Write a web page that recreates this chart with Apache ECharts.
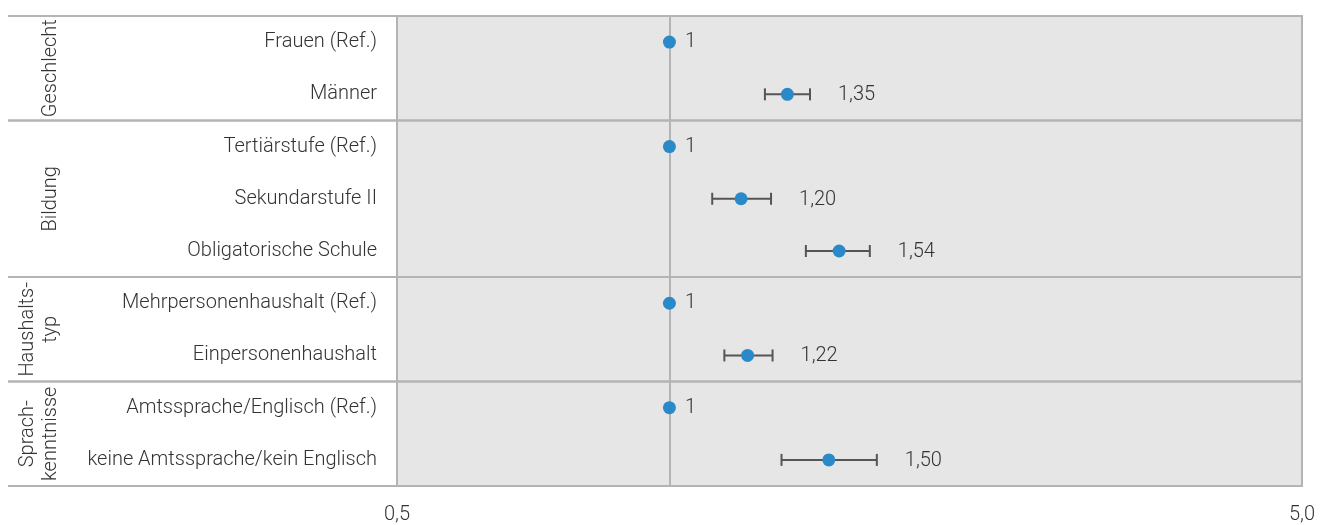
<!DOCTYPE html>
<html>
<head>
<meta charset="utf-8">
<script src="https://cdn.jsdelivr.net/npm/echarts@6/dist/echarts.min.js"></script>
<style>
  html, body { margin: 0; padding: 0; background: #fff; }
  #chart { width: 1329px; height: 525px; }
</style>
</head>
<body>
<div id="chart"></div>
<script>
// rows of the forest plot, top to bottom
const categories = [
  'Frauen (Ref.)', 'Männer',
  'Tertiärstufe (Ref.)', 'Sekundarstufe II', 'Obligatorische Schule',
  'Mehrpersonenhaushalt (Ref.)', 'Einpersonenhaushalt',
  'Amtssprache/Englisch (Ref.)', 'keine Amtssprache/kein Englisch'
];
const oddsRatio = [1, 1.35, 1, 1.20, 1.54, 1, 1.22, 1, 1.50];
const ciLow = [null, 1.275, null, 1.115, 1.415, null, 1.15, null, 1.33];
const ciHigh = [null, 1.43, null, 1.295, 1.665, null, 1.30, null, 1.695];
const valueLabels = ['1', '1,35', '1', '1,20', '1,54', '1', '1,22', '1', '1,50'];

const groups = ['Geschlecht', 'Bildung', 'Haushalts-\ntyp', 'Sprach-\nkenntnisse'];
const groupSizes = [2, 3, 2, 2];

const xTickLabels = { '0.5': '0,5', '5': '5,0' };

const FONT = 'Roboto';
const TEXT = '#333';
const RULE = '#b4b4b4';

var myChart = echarts.init(document.getElementById('chart'));

// group spans as [x, firstRow, lastRow]
let groupData = [];
let row = 0;
groupSizes.forEach((n, i) => {
  groupData.push({ value: [1, row, row + n - 1], name: groups[i] });
  row += n;
});

let ciData = [];
ciLow.forEach((lo, i) => {
  if (lo != null) ciData.push([lo, ciHigh[i], i]);
});

const option = {
  animation: false,
  backgroundColor: '#fff',
  grid: {
    left: 397, right: 27, top: 16, bottom: 39,
    show: true,
    backgroundColor: '#e6e6e6',
    borderColor: RULE,
    borderWidth: 2
  },
  xAxis: {
    type: 'log',
    logBase: 10,
    min: 0.5,
    max: 5,
    axisLine: { show: false },
    axisTick: { show: false },
    minorTick: { show: false },
    splitLine: { show: false },
    axisLabel: {
      margin: 19,
      color: TEXT,
      fontFamily: FONT,
      fontWeight: 300,
      fontSize: 20,
      showMinLabel: true,
      showMaxLabel: true,
      formatter: function (v) {
        const k = String(Math.round(v * 100) / 100);
        return xTickLabels[k] || '';
      }
    }
  },
  yAxis: {
    type: 'category',
    inverse: true,
    data: categories,
    axisLine: { show: false },
    axisTick: { show: false },
    splitLine: { show: false },
    axisLabel: {
      margin: 20,
      color: TEXT,
      fontFamily: FONT,
      fontWeight: 300,
      fontSize: 20
    }
  },
  series: [
    {
      // group labels and separators in the left margin
      type: 'custom',
      clip: false,
      silent: true,
      encode: { x: 0, y: [1, 2] },
      data: groupData,
      renderItem: function (params, api) {
        const band = api.size([0, 1])[1];
        const top = api.coord([1, api.value(1)])[1] - band / 2;
        const bottom = api.coord([1, api.value(2)])[1] + band / 2;
        const right = params.coordSys.x + params.coordSys.width;
        const name = groups[params.dataIndex];
        return {
          type: 'group',
          children: [
            {
              type: 'line',
              shape: { x1: 8, y1: top, x2: right, y2: top },
              style: { stroke: RULE, lineWidth: 2 }
            },
            {
              type: 'line',
              shape: { x1: 8, y1: bottom, x2: right, y2: bottom },
              style: { stroke: RULE, lineWidth: 2 }
            },
            {
              type: 'text',
              x: 62,
              y: (top + bottom) / 2,
              rotation: Math.PI / 2,
              style: {
                text: name,
                fill: TEXT,
                font: '300 20px ' + FONT,
                align: 'center',
                verticalAlign: 'bottom',
                lineHeight: 23
              }
            }
          ]
        };
      }
    },
    {
      // confidence intervals + value labels
      type: 'custom',
      silent: true,
      encode: { x: [0, 1], y: 2 },
      data: ciData,
      z: 3,
      renderItem: function (params, api) {
        const lo = api.coord([api.value(0), api.value(2)]);
        const hi = api.coord([api.value(1), api.value(2)]);
        const cap = 6;
        const style = { stroke: '#555', lineWidth: 2 };
        return {
          type: 'group',
          children: [
            { type: 'line', shape: { x1: lo[0], y1: lo[1], x2: hi[0], y2: hi[1] }, style: style },
            { type: 'line', shape: { x1: lo[0], y1: lo[1] - cap, x2: lo[0], y2: lo[1] + cap }, style: style },
            { type: 'line', shape: { x1: hi[0], y1: hi[1] - cap, x2: hi[0], y2: hi[1] + cap }, style: style },
            {
              type: 'text',
              x: hi[0] + 28,
              y: hi[1] + 1,
              style: {
                text: valueLabels[api.value(2)],
                fill: TEXT,
                font: '300 20px ' + FONT,
                align: 'left',
                verticalAlign: 'middle'
              }
            }
          ]
        };
      }
    },
    {
      name: 'Odds Ratio',
      type: 'scatter',
      z: 4,
      symbolSize: 13,
      itemStyle: { color: '#2a89c9', opacity: 1 },
      data: oddsRatio.map((v, i) => [v, i]),
      label: {
        show: true,
        position: 'right',
        distance: 9,
        color: TEXT,
        fontFamily: FONT,
        fontWeight: 300,
        fontSize: 20,
        formatter: function (p) {
          return ciLow[p.dataIndex] == null ? valueLabels[p.dataIndex] : '';
        }
      },
      markLine: {
        silent: true,
        symbol: 'none',
        label: { show: false },
        lineStyle: { color: RULE, width: 2, type: 'solid' },
        data: [{ xAxis: 1 }],
        z: 1
      }
    }
  ]
};

myChart.setOption(option);
</script>
</body>
</html>
